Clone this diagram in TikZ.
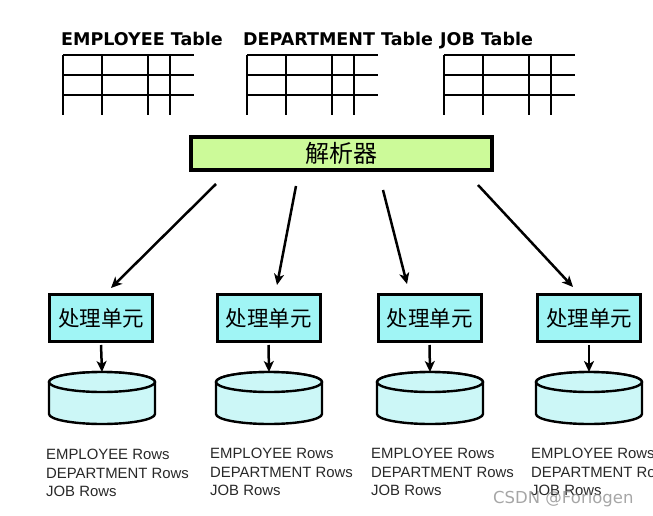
\documentclass[tikz,border=0pt]{standalone}
\usepackage{fontspec}
\setmainfont{Liberation Sans}
\newfontfamily\titlefont{DejaVu Sans}
\newfontfamily\cjkfont{Noto Sans CJK SC}
\newfontfamily\markfont{DejaVu Sans}
\usetikzlibrary{arrows.meta,calc}
\definecolor{ParserClr}{RGB}{204,250,153}
\definecolor{UnitClr}{RGB}{160,245,245}
\definecolor{DiskClr}{RGB}{204,247,247}
\definecolor{RowsClr}{RGB}{40,40,40}

% cylinder for one unit: #1 name of its top, #2 x of its axis
\newcommand{\drawdisk}[2]{%
  \filldraw[disk] (#2-53,382) -- (#2-53,414)
    arc[start angle=180,end angle=360,x radius=53pt,y radius=10pt]
    -- (#2+53,382)
    arc[start angle=0,end angle=180,x radius=53pt,y radius=10pt] -- cycle;
  \draw[disk] (#2,382) ellipse [x radius=53pt,y radius=10pt];
  \coordinate (#1) at (#2,372);
}

\begin{document}
\begin{tikzpicture}[x=1pt,y=-1pt,
  grid/.style={line width=2.4pt},
  disk/.style={line width=2.4pt,fill=DiskClr},
  parser/.style={draw,line width=4pt,fill=ParserClr,minimum width=301pt,
    minimum height=33pt,inner sep=0pt,font=\cjkfont\fontsize{24}{24}\selectfont},
  unit/.style={draw,line width=3pt,fill=UnitClr,minimum width=103pt,
    minimum height=47pt,inner sep=0pt,font=\cjkfont\fontsize{21.5}{21.5}\selectfont},
  flow/.style={line width=2.5pt,-{Stealth[length=11pt,width=10pt,inset=3pt]}},
  rows/.style={anchor=north west,inner sep=0pt,align=left,text=RowsClr,
    font=\fontsize{14.9}{18.5}\selectfont},
  tabtitle/.style={anchor=base west,inner sep=0pt,
    font=\titlefont\bfseries\fontsize{17.5}{17.5}\selectfont}]
\useasboundingbox (0,0) rectangle (653,516);

% the three tables
\foreach \x in {63,247,444}{
  \foreach \y in {55,75,95}
    \draw[grid] (\x,\y) -- (\x+131,\y);
  \foreach \dx in {0,39,85,107}
    \draw[grid] (\x+\dx,55) -- (\x+\dx,115);
}
\node[tabtitle] (tEmp) at (61,46) {EMPLOYEE Table};
\node[tabtitle] (tDept) at (243,46) {DEPARTMENT Table};
\node[tabtitle] (tJob) at (440,46) {JOB Table};

\node[parser] (parser) at (341.5,153.5) {解析器};

\node[unit] (u1) at (101,318) {处理单元};
\node[unit] (u2) at (268.5,318) {处理单元};
\node[unit] (u3) at (429.5,318) {处理单元};
\node[unit] (u4) at (589,318) {处理单元};

\draw[flow] ([xshift=27pt,yshift=-12pt]parser.south west) -- ([xshift=10pt,yshift=5pt]u1.north);
\draw[flow] ([xshift=107pt,yshift=-14pt]parser.south west) -- ([xshift=8.5pt,yshift=8pt]u2.north);
\draw[flow] ([xshift=194pt,yshift=-18pt]parser.south west) -- ([xshift=-22.5pt,yshift=9pt]u3.north);
\draw[flow] ([xshift=289pt,yshift=-13pt]parser.south west) -- ([xshift=-16pt,yshift=6pt]u4.north);

\drawdisk{d1}{102}
\drawdisk{d2}{269}
\drawdisk{d3}{430}
\drawdisk{d4}{589}

\draw[flow] ([yshift=-2pt]u1.south) -- (d1);
\draw[flow] ([yshift=-2pt]u2.south) -- (d2);
\draw[flow] ([yshift=-2pt]u3.south) -- (d3);
\draw[flow] ([yshift=-2pt]u4.south) -- (d4);

\node[rows] (r1) at (46,449) {EMPLOYEE Rows\\DEPARTMENT Rows\\JOB Rows};
\node[rows] (r2) at (210,448) {EMPLOYEE Rows\\DEPARTMENT Rows\\JOB Rows};
\node[rows] (r3) at (371,448) {EMPLOYEE Rows\\DEPARTMENT Rows\\JOB Rows};
\node[rows] (r4) at (531,448) {EMPLOYEE Rows\\DEPARTMENT Rows\\JOB Rows};

\node[anchor=base west,inner sep=0pt,text=gray,opacity=0.7,
  font=\markfont\fontsize{16.5}{16.5}\selectfont] (mark) at (493,503) {CSDN @Forlogen};
\end{tikzpicture}
\end{document}
